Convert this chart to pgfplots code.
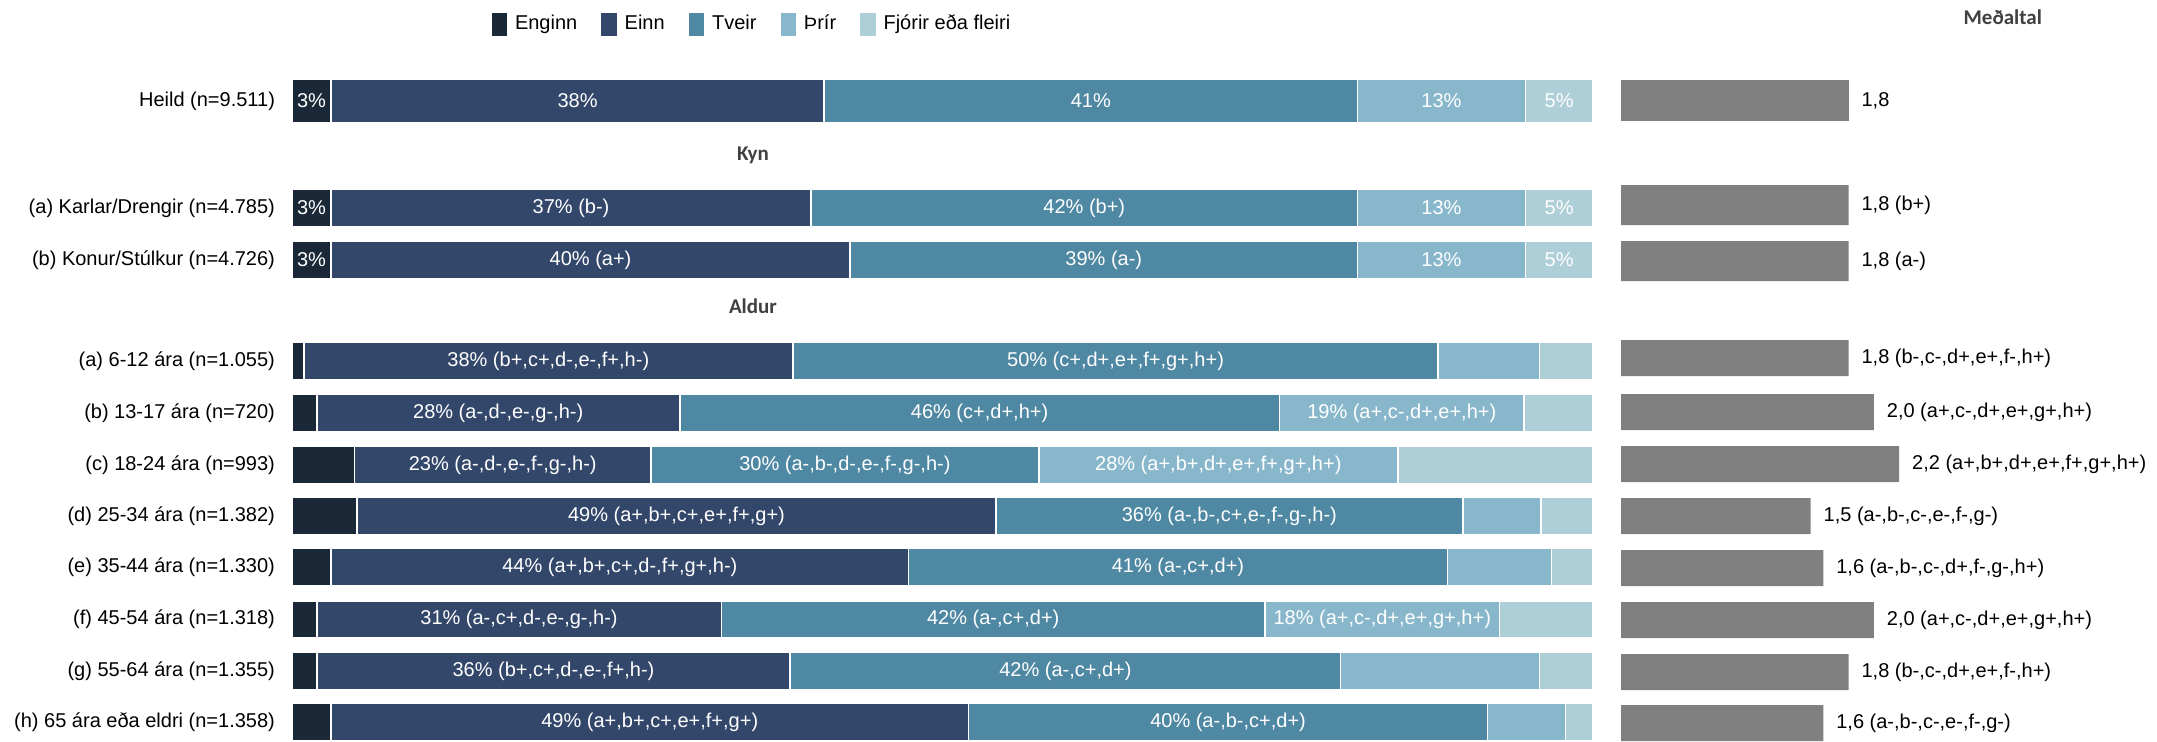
\documentclass[border=0pt]{standalone}
\usepackage{pgfplots}
\pgfplotsset{compat=1.18}
\usepackage{fontspec}
\setmainfont{Liberation Sans}
\newfontfamily\headfont{Carlito}
\definecolor{cA}{HTML}{1B2838}
\definecolor{cB}{HTML}{33476A}
\definecolor{cC}{HTML}{4F88A2}
\definecolor{cD}{HTML}{88B7CC}
\definecolor{cE}{HTML}{AECFD8}
\definecolor{cG}{HTML}{808080}
\definecolor{headc}{HTML}{404040}
\pgfplotsset{
  leftpanel/.style={
    xbar stacked, scale only axis, width=650.5pt, height=370.5pt,
    at={(146pt,0pt)}, anchor=north west,
    xmin=0, xmax=100, ymin=0, ymax=741, y dir=reverse, enlargelimits=false,
    hide x axis, axis y line*=left, y axis line style={draw=none}, major tick length=0pt,
    yticklabel style={font=\fontsize{10}{12}\selectfont, text=black, xshift=-5pt},
    clip=false,
    point meta=explicit symbolic,
    nodes near coords={\makebox[0pt]{\pgfplotspointmeta}},
    every node near coord/.append style={anchor=center, inner sep=0pt, text=white,
      font=\fontsize{10}{12}\selectfont},
    every axis plot/.append style={draw=white, line width=0.8pt},
  },
  sq legend/.style={legend image code/.code={\fill[##1,draw=none] (0pt,-5.75pt) rectangle (7.7pt,5.75pt);}},
}
\begin{document}
\begin{tikzpicture}
\path[use as bounding box] (0,0) rectangle (1078.5pt,-370.5pt);
% ---------- Heild ----------
\begin{axis}[leftpanel, bar width=44, ytick={101}, yticklabels={Heild (n=9.511)},
  legend style={at={(axis cs:35.43,24)}, anchor=center, draw=none, fill=none,
    legend columns=5, font=\fontsize{10}{12}\selectfont,
    /tikz/every odd column/.append style={column sep=2pt},
    /tikz/every even column/.append style={column sep=10pt}}]
\addplot[fill=cA, sq legend] coordinates {(3.0,101) [{3\%}]};
\addlegendentry{Enginn}
\addplot[fill=cB, sq legend] coordinates {(37.9,101) [{38\%}]};
\addlegendentry{Einn}
\addplot[fill=cC, sq legend] coordinates {(41.0,101) [{41\%}]};
\addlegendentry{Tveir}
\addplot[fill=cD, sq legend] coordinates {(12.9,101) [{13\%}]};
\addlegendentry{Þrír}
\addplot[fill=cE, sq legend] coordinates {(5.2,101) [{5\%}]};
\addlegendentry{Fjórir eða fleiri}
\end{axis}
% ---------- Kyn + Aldur ----------
\begin{axis}[leftpanel, bar width=37,
  ytick={208,260,361,413,465,516,567,619.5,671,722},
  yticklabels={(a) Karlar/Drengir (n=4.785),(b) Konur/Stúlkur (n=4.726),
    (a) 6-12 ára (n=1.055),(b) 13-17 ára (n=720),(c) 18-24 ára (n=993),
    (d) 25-34 ára (n=1.382),(e) 35-44 ára (n=1.330),(f) 45-54 ára (n=1.318),
    (g) 55-64 ára (n=1.355),(h) 65 ára eða eldri (n=1.358)}]
\addplot[fill=cA] coordinates {(3.0,208) [{3\%}] (3.0,260) [{3\%}] (0.9,361) [{}]
  (1.9,413) [{}] (4.8,465) [{}] (5.0,516) [{}] (3.0,567) [{}] (1.9,619.5) [{}]
  (1.9,671) [{}] (3.0,722) [{}]};
\addplot[fill=cB] coordinates {(36.9,208) [{37\% (b-)}] (39.9,260) [{40\% (a+)}]
  (37.6,361) [{38\% (b+,c+,d-,e-,f+,h-)}] (27.9,413) [{28\% (a-,d-,e-,g-,h-)}]
  (22.8,465) [{23\% (a-,d-,e-,f-,g-,h-)}] (49.1,516) [{49\% (a+,b+,c+,e+,f+,g+)}]
  (44.4,567) [{44\% (a+,b+,c+,d-,f+,g+,h-)}] (31.1,619.5) [{31\% (a-,c+,d-,e-,g-,h-)}]
  (36.4,671) [{36\% (b+,c+,d-,e-,f+,h-)}] (49.0,722) [{49\% (a+,b+,c+,e+,f+,g+)}]};
\addplot[fill=cC] coordinates {(42.0,208) [{42\% (b+)}] (39.0,260) [{39\% (a-)}]
  (49.6,361) [{50\% (c+,d+,e+,f+,g+,h+)}] (46.1,413) [{46\% (c+,d+,h+)}]
  (29.8,465) [{30\% (a-,b-,d-,e-,f-,g-,h-)}] (35.9,516) [{36\% (a-,b-,c+,e-,f-,g-,h-)}]
  (41.4,567) [{41\% (a-,c+,d+)}] (41.8,619.5) [{42\% (a-,c+,d+)}]
  (42.3,671) [{42\% (a-,c+,d+)}] (39.9,722) [{40\% (a-,b-,c+,d+)}]};
\addplot[fill=cD] coordinates {(12.9,208) [{13\%}] (12.9,260) [{13\%}]
  (7.8,361) [{}] (18.8,413) [{19\% (a+,c-,d+,e+,h+)}]
  (27.6,465) [{28\% (a+,b+,d+,e+,f+,g+,h+)}] (6.0,516) [{}] (8.0,567) [{}]
  (18.0,619.5) [{18\% (a+,c-,d+,e+,g+,h+)}] (15.3,671) [{}] (6.0,722) [{}]};
\addplot[fill=cE] coordinates {(5.2,208) [{5\%}] (5.2,260) [{5\%}] (4.1,361) [{}]
  (5.3,413) [{}] (15.0,465) [{}] (4.0,516) [{}] (3.2,567) [{}] (7.2,619.5) [{}]
  (4.1,671) [{}] (2.1,722) [{}]};
\node[font=\headfont\bfseries\fontsize{10.5}{12}\selectfont, text=headc] at (axis cs:35.43,155) {Kyn};
\node[font=\headfont\bfseries\fontsize{10.5}{12}\selectfont, text=headc] at (axis cs:35.43,306) {Aldur};
\end{axis}
% ---------- Meðaltal ----------
\begin{axis}[xbar, bar shift=0pt, scale only axis, width=252.8pt, height=370.5pt,
  at={(810.5pt,0pt)}, anchor=north west,
  xmin=0, xmax=4, ymin=0, ymax=741, y dir=reverse, enlargelimits=false,
  hide axis, clip=false,
  point meta=explicit symbolic,
  nodes near coords={\pgfplotspointmeta},
  every node near coord/.append style={anchor=west, text=black, xshift=3pt,
    font=\fontsize{10}{12}\selectfont}]
\addplot[fill=cG, draw=none, bar width=41, bar shift=0pt] coordinates {(1.8,100.5) [{1,8}]};
\addplot[fill=cG, draw=none, bar width=40, bar shift=0pt] coordinates {(1.8,205) [{1,8 (b+)}] (1.8,261) [{1,8 (a-)}]};
\addplot[fill=cG, draw=none, bar width=36, bar shift=0pt] coordinates {
  (1.8,358) [{1,8 (b-,c-,d+,e+,f-,h+)}] (2.0,412) [{2,0 (a+,c-,d+,e+,g+,h+)}]
  (2.2,464) [{2,2 (a+,b+,d+,e+,f+,g+,h+)}] (1.5,516) [{1,5 (a-,b-,c-,e-,f-,g-)}]
  (1.6,568) [{1,6 (a-,b-,c-,d+,f-,g-,h+)}] (2.0,620) [{2,0 (a+,c-,d+,e+,g+,h+)}]
  (1.8,672) [{1,8 (b-,c-,d+,e+,f-,h+)}] (1.6,723) [{1,6 (a-,b-,c-,e-,f-,g-)}]};
\node[font=\headfont\bfseries\fontsize{10.5}{12}\selectfont, text=headc] at (axis cs:3.02,17) {Meðaltal};
\end{axis}
\end{tikzpicture}
\end{document}
